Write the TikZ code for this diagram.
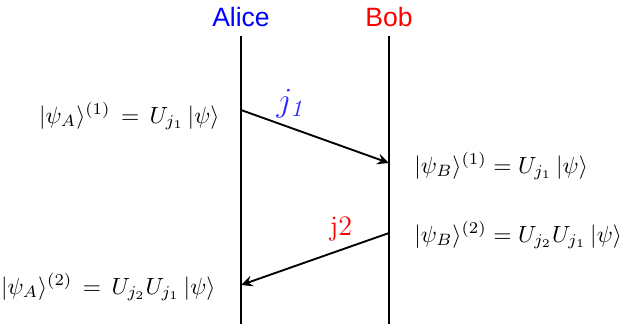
\documentclass[tikz,border=0pt]{standalone}
\usepackage{fontspec}
\newfontfamily\labelfont{Liberation Sans}
\usetikzlibrary{arrows.meta}
\begin{document}
\begin{tikzpicture}[x=0.426pt,y=-0.426pt,
  life/.style={line width=0.85pt},
  msg/.style={line width=0.8pt,-{Stealth[length=5pt,width=4.6pt,inset=1.8pt]}},
  who/.style={font=\labelfont\fontsize{11.3}{13}\selectfont,inner sep=0pt},
  st/.style={inner sep=0pt},
  tag/.style={inner sep=0pt,font=\Large},
  tagb/.style={inner sep=0pt,font=\large}]
\useasboundingbox (0,0) rectangle (620,324);
\node[who,text=blue] (alice) at (241,17) {Alice};
\node[who,text=red] (bob) at (389,17) {Bob};
\coordinate (atop) at (241,36);
\coordinate (abot) at (241,324);
\coordinate (btop) at (389,36);
\coordinate (bbot) at (389,324);
\draw[life] (atop) -- (abot);
\draw[life] (btop) -- (bbot);
\coordinate (m1s) at (241,110);
\coordinate (m1e) at (389,163);
\coordinate (m2s) at (389,233);
\coordinate (m2e) at (241,285);
\draw[msg] (m1s) -- (m1e);
\draw[msg] (m2s) -- (m2e);
\node[tag,text=blue!85!white] (l1) at (290,104) {$j_{\mathit{1}}$};
\node[tagb,text=red] (l2) at (341,229) {$\mathrm{j}2$};
\node[st,anchor=east] (sa1) at (220,116) {$|\psi_A\rangle^{(1)} \,=\, U_{j_1}\,|\psi\rangle$};
\node[st,anchor=west] (sb1) at (414,166) {$|\psi_B\rangle^{(1)} = U_{j_1}\,|\psi\rangle$};
\node[st,anchor=west] (sb2) at (414,235) {$|\psi_B\rangle^{(2)} = U_{j_2}U_{j_1}\,|\psi\rangle$};
\node[st,anchor=east] (sa2) at (216,287) {$|\psi_A\rangle^{(2)} \,=\, U_{j_2}U_{j_1}\,|\psi\rangle$};
\end{tikzpicture}
\end{document}
